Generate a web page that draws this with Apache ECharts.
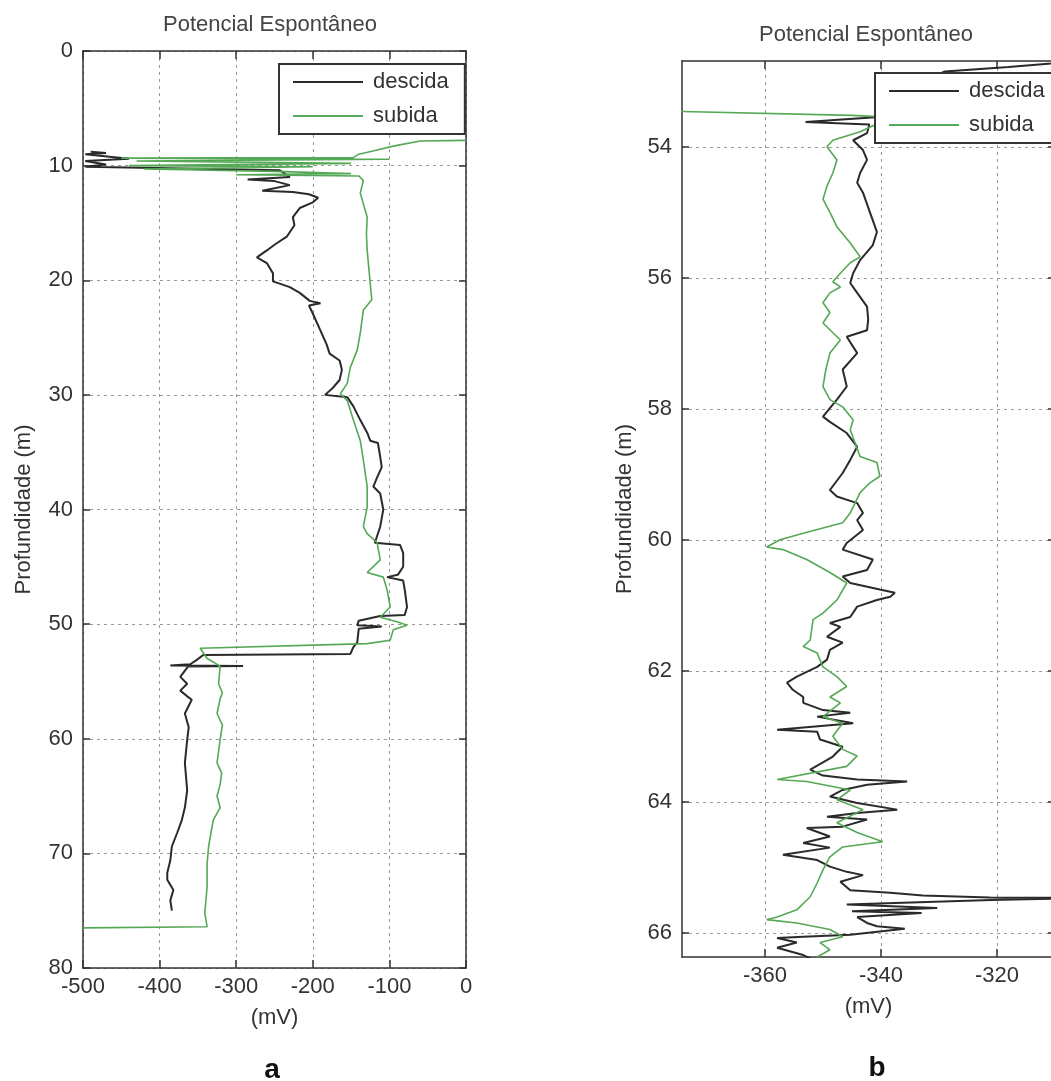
<!DOCTYPE html>
<html>
<head>
<meta charset="utf-8">
<script src="https://cdn.jsdelivr.net/npm/echarts@6/dist/echarts.min.js"></script>
<style>
html,body{margin:0;padding:0;background:#fff;}
#chart{width:1051px;height:1081px;}
</style>
</head>
<body>
<div id="chart"></div>
<script>
// ---- data ----
const seriesNames = ['descida', 'subida'];
const titleText = 'Potencial Espontâneo';
const xName = '(mV)';
const yName = 'Profundidade (m)';
const panelLabels = ['a', 'b'];

// Panel a axes
const xTicksA = [-500, -400, -300, -200, -100, 0];
const yTicksA = [0, 10, 20, 30, 40, 50, 60, 70, 80];
// Panel b axes
const xTicksB = [-360, -340, -320];
const yTicksB = [54, 56, 58, 60, 62, 64, 66];

// Panel a: [mV, depth m]
const descidaA = [
[-490,8.8],[-470,8.9],[-497,9.0],[-440,9.4],[-497,9.6],[-470,9.9],[-497,10.1],[-243,10.4],[-230,11.0],[-285,11.2],[-250,11.35],[-230,11.7],[-266,12.2],[-226,12.3],[-205,12.5],[-193,12.8],[-200,13.2],[-217,13.7],[-226,14.5],[-224,15.2],[-234,16.2],[-250,16.9],[-260,17.4],[-273,18.0],[-260,18.5],[-252,19.4],[-252,20.1],[-230,20.6],[-217,21.1],[-204,21.8],[-190,22.0],[-205,22.2],[-200,22.9],[-190,24.4],[-182,25.6],[-178,26.4],[-165,27.0],[-162,27.8],[-165,28.7],[-174,29.4],[-184,30.0],[-155,30.2],[-147,31.0],[-138,32.2],[-129,33.3],[-125,34.0],[-115,34.2],[-112,35.4],[-110,36.3],[-116,37.2],[-121,38.0],[-112,38.6],[-108,40.0],[-112,41.5],[-119,42.9],[-86,43.1],[-82,43.8],[-82,45.0],[-89,45.7],[-103,45.9],[-82,46.2],[-80,47.0],[-77,48.5],[-80,49.2],[-112,49.3],[-140,49.7],[-142,50.1],[-110,50.2],[-140,50.4],[-142,51.6],[-147,52.0],[-151,52.6],[-343,52.7],[-351,53.1],[-360,53.5],[-386,53.6],[-291,53.65],[-363,53.7],[-373,54.6],[-364,55.2],[-373,55.8],[-364,56.3],[-358,56.6],[-367,57.8],[-362,59.0],[-364,60.1],[-367,62.1],[-364,64.5],[-367,66.0],[-371,67.1],[-377,68.2],[-384,69.4],[-386,70.6],[-390,71.7],[-390,72.3],[-382,73.2],[-386,74.1],[-384,75.0]
];
const subidaA = [
[0,7.8],[-60,7.85],[-95,8.3],[-120,8.7],[-140,9.0],[-147,9.3],[-450,9.35],[-100,9.45],[-430,9.6],[-150,9.8],[-440,10.0],[-200,10.1],[-420,10.3],[-250,10.5],[-150,10.7],[-300,10.8],[-140,10.9],[-134,11.3],[-138,12.4],[-129,14.5],[-130,16.0],[-129,17.4],[-125,20.3],[-123,21.7],[-134,22.6],[-138,24.6],[-142,26.1],[-151,27.6],[-155,29.0],[-164,29.9],[-155,30.5],[-147,32.2],[-138,34.0],[-134,35.7],[-129,38.0],[-129,39.8],[-134,41.5],[-129,42.1],[-116,42.9],[-112,44.4],[-129,45.5],[-108,45.9],[-103,47.0],[-99,48.5],[-112,49.4],[-90,49.8],[-77,50.1],[-95,50.5],[-99,51.4],[-129,51.7],[-347,52.1],[-338,53.0],[-330,53.3],[-321,53.7],[-323,55.2],[-318,56.0],[-321,56.5],[-325,57.8],[-318,58.8],[-321,60.1],[-325,62.1],[-319,63.0],[-321,64.0],[-325,65.0],[-321,66.0],[-330,67.1],[-336,69.4],[-338,70.9],[-338,72.9],[-341,75.2],[-338,76.4],[-500,76.5]
];

// Panel b: [mV, depth m]
const descidaB = [
[-305,52.69],[-318,52.78],[-329,52.85],[-335,53.1],[-339,53.4],[-341,53.55],[-353,53.62],[-342,53.66],[-342.4,53.79],[-344.8,53.9],[-343.1,54.05],[-342.4,54.2],[-343.6,54.4],[-344.1,54.55],[-343.1,54.7],[-341.9,55.0],[-340.7,55.3],[-341.4,55.5],[-343.6,55.73],[-344.8,55.93],[-345.3,56.08],[-344.1,56.23],[-342.4,56.44],[-342.2,56.64],[-342.4,56.8],[-345.9,56.9],[-344.1,57.15],[-346.6,57.4],[-345.9,57.66],[-347.6,57.86],[-350,58.12],[-348.8,58.2],[-345.9,58.37],[-344.1,58.58],[-345.3,58.78],[-346.6,58.98],[-348.8,59.24],[-347.6,59.34],[-344.1,59.44],[-343.1,59.59],[-344.1,59.7],[-343.1,59.85],[-345.9,60.05],[-346.6,60.15],[-341.4,60.3],[-342.4,60.46],[-346.6,60.56],[-345.3,60.66],[-340.2,60.76],[-337.6,60.81],[-338.4,60.87],[-340.7,60.92],[-344.1,61.02],[-345.3,61.18],[-348.8,61.27],[-347,61.33],[-349.3,61.48],[-346.6,61.57],[-348.8,61.68],[-349.3,61.83],[-351,61.94],[-354.5,62.09],[-356.2,62.18],[-355.2,62.29],[-353.4,62.4],[-353.4,62.49],[-350,62.6],[-345.3,62.64],[-351,62.7],[-344.8,62.8],[-357.9,62.9],[-351,62.93],[-350.5,63.05],[-346.6,63.16],[-348.3,63.31],[-350,63.4],[-352.2,63.51],[-350,63.6],[-344.1,63.66],[-335.5,63.69],[-342.4,63.74],[-346.6,63.82],[-348.8,63.92],[-344.1,64.02],[-337.2,64.12],[-344.1,64.17],[-349.3,64.23],[-342.4,64.27],[-346.6,64.38],[-352.8,64.4],[-348.8,64.53],[-353.4,64.63],[-348.8,64.7],[-356.9,64.81],[-351,64.89],[-348.8,64.99],[-345.9,65.07],[-343.1,65.12],[-347,65.22],[-345.3,65.35],[-338.4,65.39],[-332.8,65.43],[-321.2,65.46],[-305,65.47],[-321,65.5],[-345.9,65.57],[-330.3,65.62],[-345,65.67],[-333,65.7],[-344.1,65.76],[-342.4,65.85],[-340.7,65.9],[-335.9,65.94],[-340.2,65.98],[-345.3,66.03],[-353.4,66.06],[-357.9,66.08],[-354.5,66.15],[-357.9,66.23],[-353.4,66.34],[-352,66.4]
];
const subidaB = [
[-400,53.44],[-374.3,53.46],[-345,53.52],[-338,53.55],[-340,53.62],[-343.6,53.77],[-348.3,53.9],[-349.3,54.0],[-347.6,54.2],[-348.3,54.4],[-349.3,54.6],[-350,54.8],[-348.8,55.0],[-347.6,55.22],[-345.3,55.47],[-343.6,55.68],[-345.3,55.77],[-347,55.93],[-348.3,56.06],[-347,56.14],[-348.8,56.23],[-350,56.38],[-348.8,56.53],[-350,56.69],[-347,56.95],[-348.8,57.15],[-349.5,57.4],[-350,57.66],[-348.8,57.86],[-346.6,57.97],[-344.8,58.17],[-345.3,58.32],[-343.6,58.73],[-340.7,58.82],[-340.2,59.03],[-341.9,59.13],[-343.6,59.28],[-345.3,59.59],[-346.6,59.74],[-353.4,59.9],[-357.4,60.0],[-359.7,60.11],[-356.9,60.15],[-352.8,60.3],[-348.8,60.5],[-345.9,60.66],[-347.6,60.92],[-350,61.12],[-351.7,61.22],[-352.2,61.53],[-353.4,61.63],[-351,61.73],[-350,61.94],[-347.6,62.09],[-345.9,62.24],[-348.8,62.4],[-347,62.49],[-350,62.7],[-346.6,62.8],[-348.3,63.0],[-346.6,63.2],[-344.1,63.3],[-345.9,63.46],[-357.9,63.66],[-352.8,63.69],[-345.3,63.82],[-347.6,63.97],[-343.1,64.12],[-347.6,64.32],[-344.1,64.47],[-339.7,64.61],[-346.6,64.69],[-348.8,64.84],[-350,65.04],[-351,65.24],[-352.2,65.45],[-354.5,65.65],[-357.9,65.76],[-359.7,65.8],[-354.5,65.85],[-348.8,65.95],[-346.6,66.06],[-350.5,66.15],[-348.8,66.26],[-351,66.37]
];

// ---- styling ----
const FONT = '"Liberation Sans", Arial, sans-serif';
const AXIS_COLOR = '#333';
const TEXT_COLOR = '#333';
const COLOR_DESC = '#2a2a2a';
const COLOR_SUB = '#55a855';

const chart = echarts.init(document.getElementById('chart'), null, {renderer: 'canvas'});

function axisLineStyle() { return {show: true, onZero: false, lineStyle: {color: AXIS_COLOR, width: 1.5}}; }
function gridLine() { return {show: true, lineStyle: {color: '#999', width: 1, type: [3, 4]}}; }

function xAxes(gridIndex, min, max, ticks) {
  return [
    {
      type: 'value', gridIndex, position: 'bottom', min, max,
      axisLine: axisLineStyle(),
      axisTick: {show: true, inside: true, length: 8, lineStyle: {color: AXIS_COLOR, width: 1.5}, customValues: ticks},
      axisLabel: {show: true, customValues: ticks, fontSize: 22, fontFamily: FONT, color: TEXT_COLOR, margin: 8},
      splitLine: gridLine(),
      name: xName, nameLocation: 'middle', nameGap: 39, nameMoveOverlap: false,
      nameTextStyle: {fontSize: 22, fontFamily: FONT, color: TEXT_COLOR}
    },
    {
      type: 'value', gridIndex, position: 'top', min, max,
      axisLine: axisLineStyle(),
      axisTick: {show: true, inside: true, length: 8, lineStyle: {color: AXIS_COLOR, width: 1.5}, customValues: ticks},
      axisLabel: {show: false},
      splitLine: {show: false}
    }
  ];
}
function yAxes(gridIndex, min, max, ticks, nameGap) {
  return [
    {
      type: 'value', gridIndex, position: 'left', min, max, inverse: true,
      axisLine: axisLineStyle(),
      axisTick: {show: true, inside: true, length: 7, lineStyle: {color: AXIS_COLOR, width: 1.5}, customValues: ticks},
      axisLabel: {show: true, customValues: ticks, fontSize: 22, fontFamily: FONT, color: TEXT_COLOR, margin: 10},
      splitLine: gridLine(),
      name: yName, nameLocation: 'middle', nameGap: nameGap, nameRotate: 90, nameMoveOverlap: false,
      nameTextStyle: {fontSize: 22, fontFamily: FONT, color: TEXT_COLOR}
    },
    {
      type: 'value', gridIndex, position: 'right', min, max, inverse: true,
      axisLine: axisLineStyle(),
      axisTick: {show: true, inside: true, length: 7, lineStyle: {color: AXIS_COLOR, width: 1.5}, customValues: ticks},
      axisLabel: {show: false},
      splitLine: {show: false}
    }
  ];
}

const xa = xAxes(0, -500, 0, xTicksA);
const xb = xAxes(1, -374.3, -310, xTicksB);
const ya = yAxes(0, 0, 80, yTicksA, 48);
const yb = yAxes(1, 52.69, 66.37, yTicksB, 46);

function legendFor(left, top) {
  return {
    data: seriesNames, left, top, orient: 'vertical',
    icon: 'rect', itemWidth: 70, itemHeight: 2, itemGap: 10,
    backgroundColor: '#fff', borderColor: '#333', borderWidth: 2, borderRadius: 0,
    padding: [6, 16, 6, 14],
    textStyle: {fontSize: 22, fontFamily: FONT, color: TEXT_COLOR, lineHeight: 24, padding: [0, 0, 0, 5]},
    selectedMode: false
  };
}

function lineSeries(name, data, xi, yi, color, width) {
  return {
    name, type: 'line', data, xAxisIndex: xi, yAxisIndex: yi,
    symbol: 'none', showSymbol: false, smooth: false, clip: true,
    lineStyle: {color, width}, itemStyle: {color},
    emphasis: {disabled: true}
  };
}

const option = {
  backgroundColor: '#fff',
  animation: false,
  grid: [
    {left: 83, top: 51, width: 383, height: 917, containLabel: false, outerBoundsMode: 'none'},
    {left: 682, top: 61, width: 373, height: 896, containLabel: false, outerBoundsMode: 'none'}
  ],
  xAxis: [xa[0], xa[1], xb[0], xb[1]],
  yAxis: [ya[0], ya[1], yb[0], yb[1]],
  legend: [legendFor(279, 64), legendFor(875, 73)],
  series: [
    lineSeries(seriesNames[0], descidaA, 0, 0, COLOR_DESC, 2),
    lineSeries(seriesNames[1], subidaA, 0, 0, COLOR_SUB, 1.6),
    lineSeries(seriesNames[0], descidaB, 2, 2, COLOR_DESC, 2),
    lineSeries(seriesNames[1], subidaB, 2, 2, COLOR_SUB, 1.6)
  ],
  graphic: [
    {type: 'text', x: 270, y: 25, style: {text: titleText, fill: '#444', font: '22px ' + FONT, textAlign: 'center', textVerticalAlign: 'middle'}},
    {type: 'text', x: 866, y: 35, style: {text: titleText, fill: '#444', font: '22px ' + FONT, textAlign: 'center', textVerticalAlign: 'middle'}},
    {type: 'text', x: 272, y: 1070, style: {text: panelLabels[0], fill: '#111', font: 'bold 28px ' + FONT, textAlign: 'center', textVerticalAlign: 'middle'}},
    {type: 'text', x: 877, y: 1068, style: {text: panelLabels[1], fill: '#111', font: 'bold 28px ' + FONT, textAlign: 'center', textVerticalAlign: 'middle'}}
  ]
};
chart.setOption(option);
</script>
</body>
</html>
